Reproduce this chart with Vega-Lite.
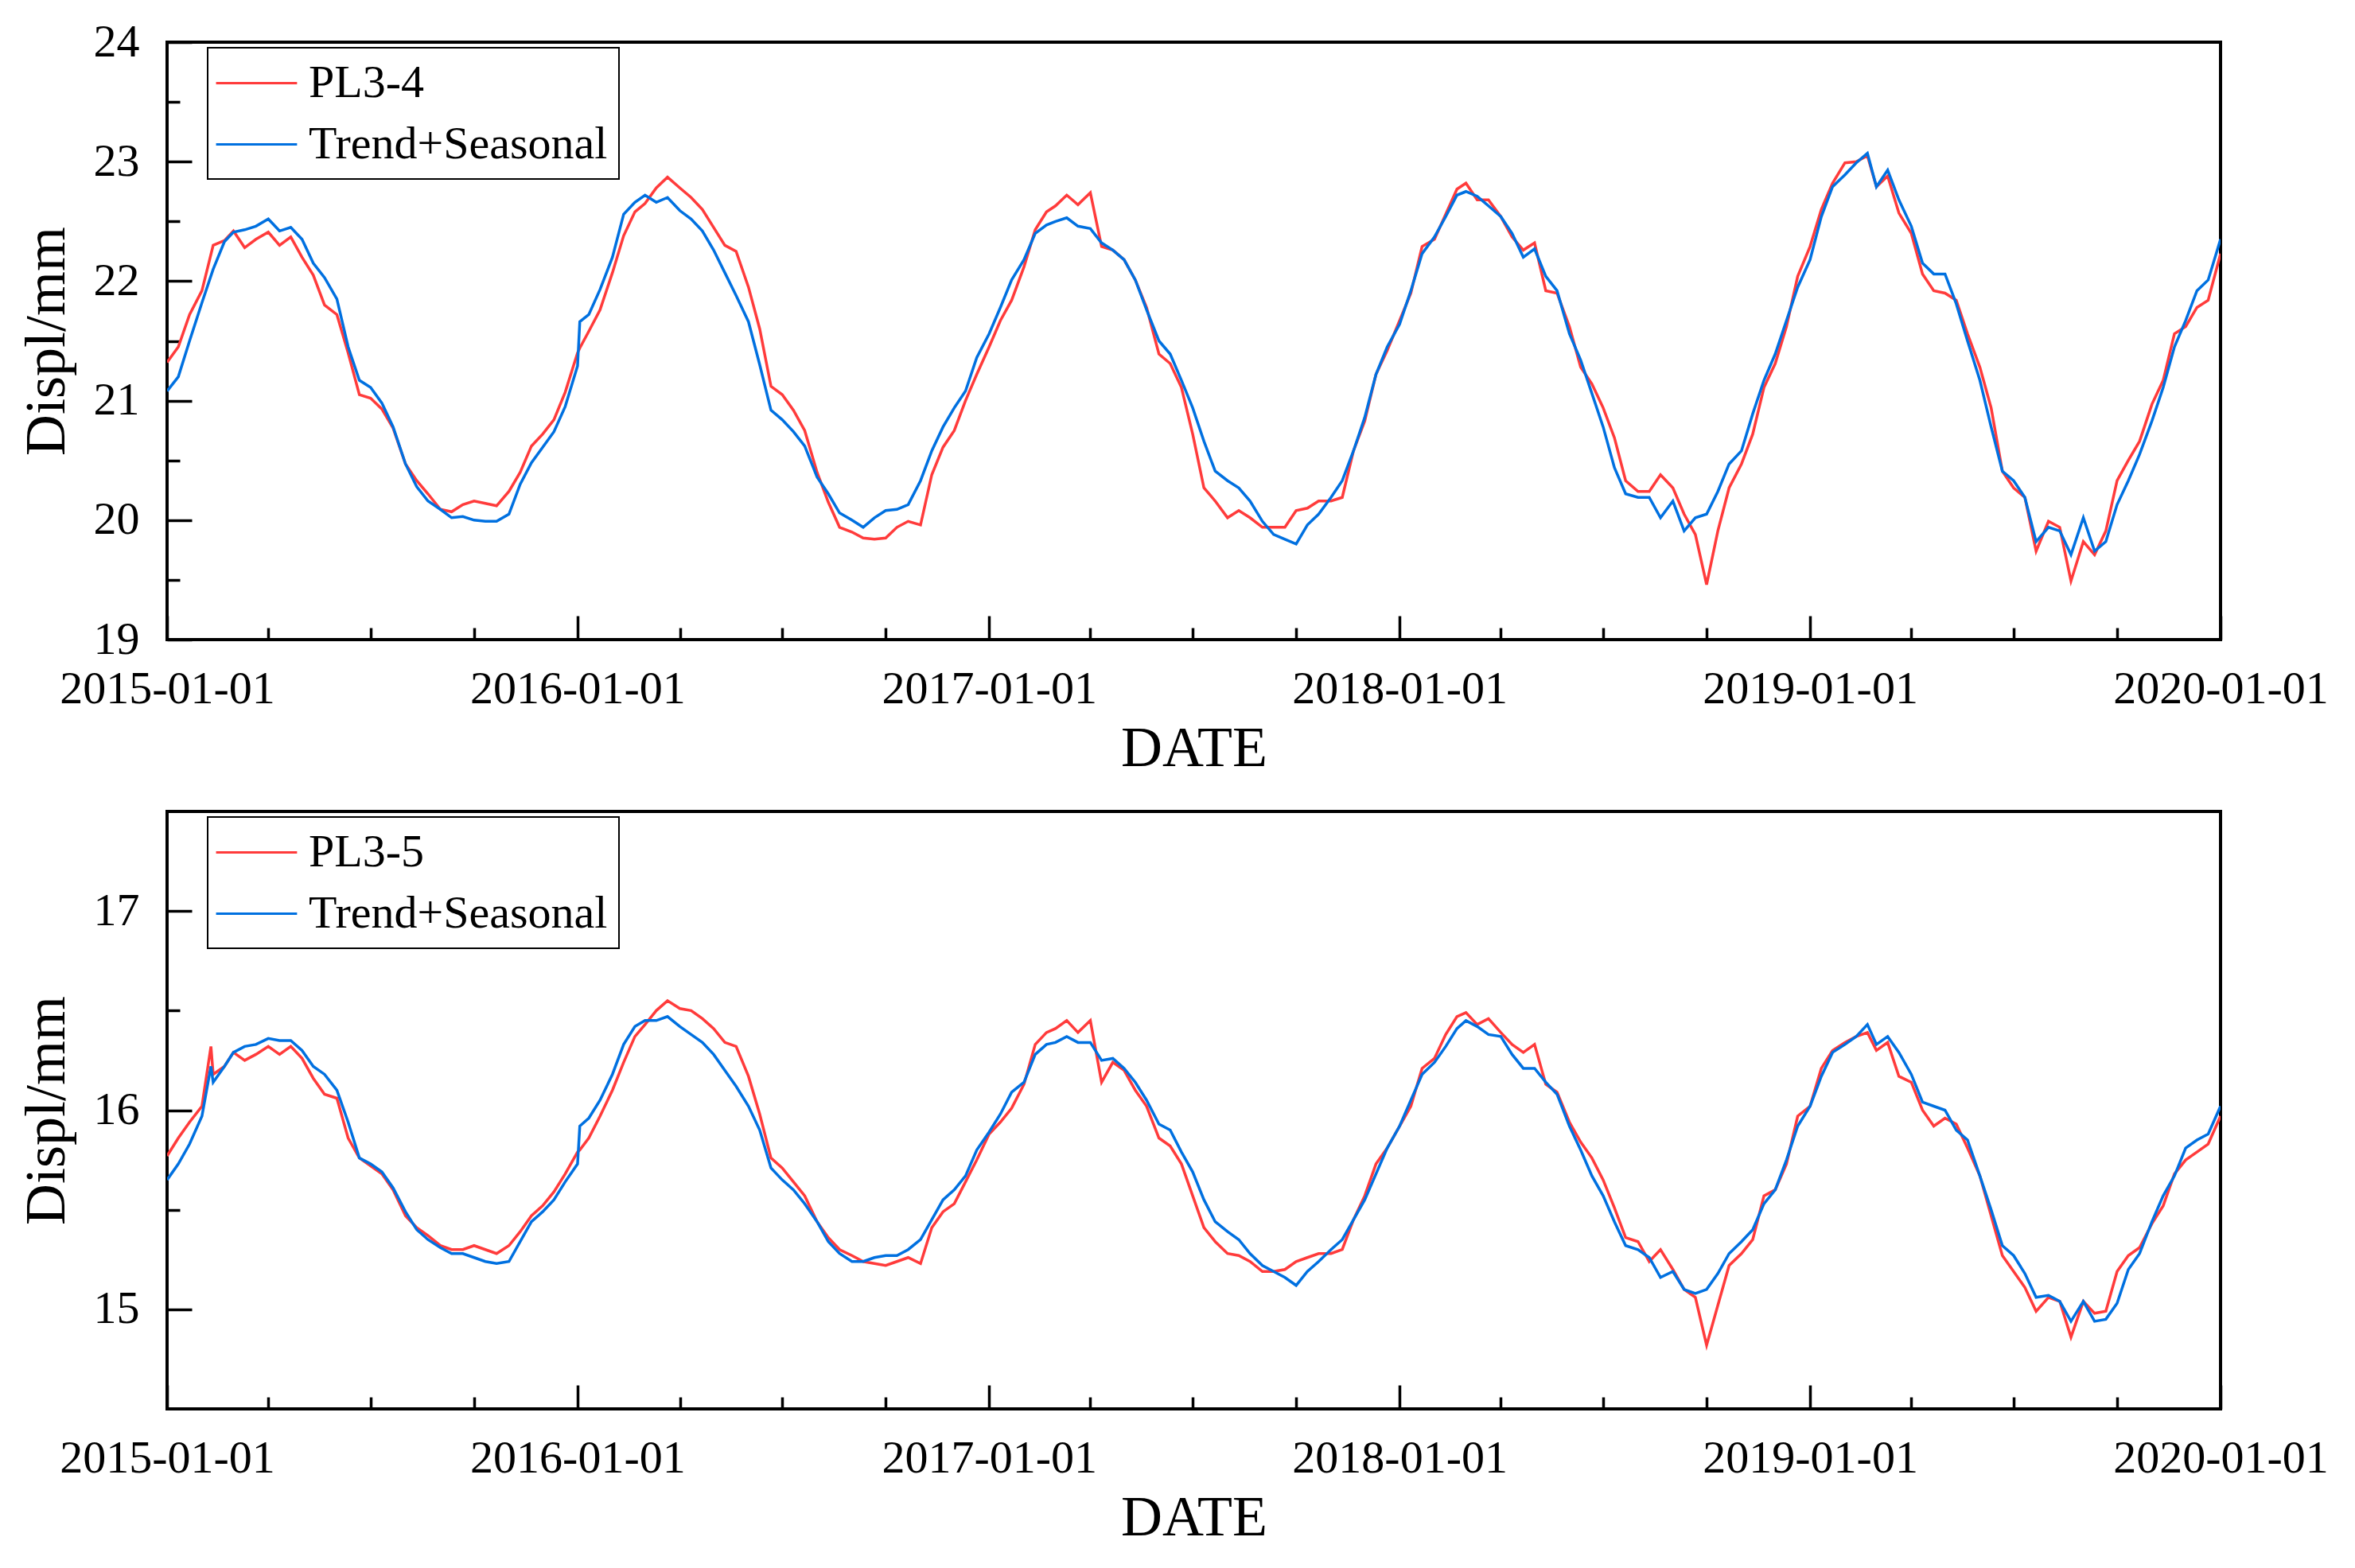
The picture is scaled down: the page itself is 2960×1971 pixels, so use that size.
{
"$schema":"https://vega.github.io/schema/vega-lite/v6.json",
"background":"white",
"padding":{"left":20,"top":22,"right":10,"bottom":10},
"spacing":40,
"config":{
 "view":{"stroke":"black","strokeWidth":4},
 "font":"Liberation Serif",
 "axis":{"domain":false,"grid":false,"tickColor":"black","tickWidth":3.5,"labelColor":"black","labelFont":"Liberation Serif","labelFontSize":58,"labelLimit":0,"titleFont":"Liberation Serif","titleFontSize":72,"titleFontWeight":"normal","titleColor":"black","labelFlush":false,"labelOverlap":false},
 "legend":{"orient":"none","legendX":51,"legendY":7,"direction":"vertical","title":null,"strokeColor":"black","strokeWidth":2,"fillColor":"white","padding":14,"symbolType":"M-1.17,0H2.34","symbolSize":3364,"symbolStrokeWidth":3,"labelFontSize":58,"labelFont":"Liberation Serif","labelColor":"black","labelOffset":52,"rowPadding":17,"labelLimit":0}
},
"resolve":{"scale":{"color":"independent"},"legend":{"color":"independent"}},
"vconcat":[
{
 "width":2581,"height":751,
 "data":{"values":[
{"date":"2015-01-01","obs":21.32,"fit":21.08},
{"date":"2015-01-11","obs":21.45,"fit":21.20},
{"date":"2015-01-21","obs":21.72,"fit":21.50},
{"date":"2015-02-01","obs":21.92,"fit":21.82},
{"date":"2015-02-11","obs":22.30,"fit":22.10},
{"date":"2015-02-21","obs":22.34,"fit":22.33},
{"date":"2015-03-01","obs":22.42,"fit":22.41},
{"date":"2015-03-11","obs":22.28,"fit":22.43},
{"date":"2015-03-21","obs":22.35,"fit":22.46},
{"date":"2015-04-01","obs":22.41,"fit":22.52},
{"date":"2015-04-11","obs":22.30,"fit":22.42},
{"date":"2015-04-21","obs":22.37,"fit":22.45},
{"date":"2015-05-01","obs":22.20,"fit":22.35},
{"date":"2015-05-11","obs":22.05,"fit":22.15},
{"date":"2015-05-21","obs":21.80,"fit":22.03},
{"date":"2015-06-01","obs":21.72,"fit":21.85},
{"date":"2015-06-11","obs":21.40,"fit":21.45},
{"date":"2015-06-21","obs":21.05,"fit":21.17},
{"date":"2015-07-01","obs":21.02,"fit":21.11},
{"date":"2015-07-11","obs":20.93,"fit":20.98},
{"date":"2015-07-21","obs":20.77,"fit":20.78},
{"date":"2015-08-01","obs":20.47,"fit":20.47},
{"date":"2015-08-11","obs":20.33,"fit":20.28},
{"date":"2015-08-21","obs":20.22,"fit":20.16},
{"date":"2015-09-01","obs":20.09,"fit":20.09},
{"date":"2015-09-11","obs":20.07,"fit":20.02},
{"date":"2015-09-21","obs":20.13,"fit":20.03},
{"date":"2015-10-01","obs":20.16,"fit":20.00},
{"date":"2015-10-11","obs":20.14,"fit":19.99},
{"date":"2015-10-21","obs":20.12,"fit":19.99},
{"date":"2015-11-01","obs":20.24,"fit":20.05},
{"date":"2015-11-11","obs":20.40,"fit":20.30},
{"date":"2015-11-21","obs":20.62,"fit":20.48},
{"date":"2015-12-01","obs":20.72,"fit":20.61},
{"date":"2015-12-11","obs":20.84,"fit":20.74},
{"date":"2015-12-21","obs":21.07,"fit":20.95},
{"date":"2016-01-01","obs":21.40,"fit":21.29},
{"date":"2016-01-03","obs":21.44,"fit":21.66},
{"date":"2016-01-11","obs":21.58,"fit":21.72},
{"date":"2016-01-21","obs":21.76,"fit":21.93},
{"date":"2016-02-01","obs":22.07,"fit":22.20},
{"date":"2016-02-11","obs":22.38,"fit":22.56},
{"date":"2016-02-21","obs":22.58,"fit":22.66},
{"date":"2016-03-01","obs":22.65,"fit":22.72},
{"date":"2016-03-11","obs":22.78,"fit":22.66},
{"date":"2016-03-21","obs":22.87,"fit":22.70},
{"date":"2016-04-01","obs":22.78,"fit":22.59},
{"date":"2016-04-11","obs":22.70,"fit":22.52},
{"date":"2016-04-21","obs":22.60,"fit":22.42},
{"date":"2016-05-01","obs":22.45,"fit":22.26},
{"date":"2016-05-11","obs":22.30,"fit":22.07},
{"date":"2016-05-21","obs":22.25,"fit":21.88},
{"date":"2016-06-01","obs":21.95,"fit":21.66},
{"date":"2016-06-11","obs":21.60,"fit":21.30},
{"date":"2016-06-21","obs":21.12,"fit":20.92},
{"date":"2016-07-01","obs":21.05,"fit":20.84},
{"date":"2016-07-11","obs":20.92,"fit":20.74},
{"date":"2016-07-21","obs":20.75,"fit":20.62},
{"date":"2016-08-01","obs":20.40,"fit":20.36},
{"date":"2016-08-11","obs":20.15,"fit":20.22},
{"date":"2016-08-21","obs":19.94,"fit":20.06},
{"date":"2016-09-01","obs":19.90,"fit":20.00},
{"date":"2016-09-11","obs":19.85,"fit":19.94},
{"date":"2016-09-21","obs":19.84,"fit":20.02},
{"date":"2016-10-01","obs":19.85,"fit":20.08},
{"date":"2016-10-11","obs":19.94,"fit":20.09},
{"date":"2016-10-21","obs":19.99,"fit":20.13},
{"date":"2016-11-01","obs":19.96,"fit":20.33},
{"date":"2016-11-11","obs":20.38,"fit":20.58},
{"date":"2016-11-21","obs":20.61,"fit":20.78},
{"date":"2016-12-01","obs":20.75,"fit":20.94},
{"date":"2016-12-11","obs":21.00,"fit":21.08},
{"date":"2016-12-21","obs":21.22,"fit":21.36},
{"date":"2017-01-01","obs":21.45,"fit":21.56},
{"date":"2017-01-11","obs":21.67,"fit":21.78},
{"date":"2017-01-21","obs":21.84,"fit":22.01},
{"date":"2017-02-01","obs":22.12,"fit":22.18},
{"date":"2017-02-11","obs":22.43,"fit":22.40},
{"date":"2017-02-21","obs":22.58,"fit":22.47},
{"date":"2017-03-01","obs":22.63,"fit":22.50},
{"date":"2017-03-11","obs":22.72,"fit":22.53},
{"date":"2017-03-21","obs":22.64,"fit":22.46},
{"date":"2017-04-01","obs":22.74,"fit":22.44},
{"date":"2017-04-11","obs":22.29,"fit":22.32},
{"date":"2017-04-21","obs":22.26,"fit":22.26},
{"date":"2017-05-01","obs":22.18,"fit":22.18},
{"date":"2017-05-11","obs":22.01,"fit":22.01},
{"date":"2017-05-21","obs":21.78,"fit":21.76},
{"date":"2017-06-01","obs":21.39,"fit":21.50},
{"date":"2017-06-11","obs":21.31,"fit":21.39},
{"date":"2017-06-21","obs":21.11,"fit":21.17},
{"date":"2017-07-01","obs":20.72,"fit":20.94},
{"date":"2017-07-11","obs":20.27,"fit":20.66},
{"date":"2017-07-21","obs":20.16,"fit":20.41},
{"date":"2017-08-01","obs":20.02,"fit":20.33},
{"date":"2017-08-11","obs":20.08,"fit":20.27},
{"date":"2017-08-21","obs":20.02,"fit":20.16},
{"date":"2017-09-01","obs":19.94,"fit":19.99},
{"date":"2017-09-11","obs":19.94,"fit":19.88},
{"date":"2017-09-21","obs":19.94,"fit":19.84},
{"date":"2017-10-01","obs":20.08,"fit":19.80},
{"date":"2017-10-11","obs":20.10,"fit":19.96},
{"date":"2017-10-21","obs":20.16,"fit":20.05},
{"date":"2017-11-01","obs":20.16,"fit":20.19},
{"date":"2017-11-11","obs":20.19,"fit":20.33},
{"date":"2017-11-21","obs":20.58,"fit":20.58},
{"date":"2017-12-01","obs":20.83,"fit":20.86},
{"date":"2017-12-11","obs":21.22,"fit":21.22},
{"date":"2017-12-21","obs":21.42,"fit":21.45},
{"date":"2018-01-01","obs":21.67,"fit":21.64},
{"date":"2018-01-11","obs":21.90,"fit":21.92},
{"date":"2018-01-21","obs":22.29,"fit":22.23},
{"date":"2018-02-01","obs":22.35,"fit":22.37},
{"date":"2018-02-11","obs":22.56,"fit":22.54},
{"date":"2018-02-21","obs":22.77,"fit":22.72},
{"date":"2018-03-01","obs":22.82,"fit":22.75},
{"date":"2018-03-11","obs":22.68,"fit":22.71},
{"date":"2018-03-21","obs":22.68,"fit":22.63},
{"date":"2018-04-01","obs":22.54,"fit":22.54},
{"date":"2018-04-11","obs":22.37,"fit":22.40},
{"date":"2018-04-21","obs":22.26,"fit":22.20},
{"date":"2018-05-01","obs":22.32,"fit":22.27},
{"date":"2018-05-11","obs":21.92,"fit":22.04},
{"date":"2018-05-21","obs":21.90,"fit":21.92},
{"date":"2018-06-01","obs":21.62,"fit":21.56},
{"date":"2018-06-11","obs":21.28,"fit":21.34},
{"date":"2018-06-21","obs":21.14,"fit":21.06},
{"date":"2018-07-01","obs":20.94,"fit":20.78},
{"date":"2018-07-11","obs":20.69,"fit":20.44},
{"date":"2018-07-21","obs":20.33,"fit":20.22},
{"date":"2018-08-01","obs":20.24,"fit":20.19},
{"date":"2018-08-11","obs":20.24,"fit":20.19},
{"date":"2018-08-21","obs":20.38,"fit":20.02},
{"date":"2018-09-01","obs":20.27,"fit":20.16},
{"date":"2018-09-11","obs":20.05,"fit":19.91},
{"date":"2018-09-21","obs":19.88,"fit":20.02},
{"date":"2018-10-01","obs":19.46,"fit":20.05},
{"date":"2018-10-11","obs":19.91,"fit":20.24},
{"date":"2018-10-21","obs":20.27,"fit":20.47},
{"date":"2018-11-01","obs":20.47,"fit":20.58},
{"date":"2018-11-11","obs":20.72,"fit":20.89},
{"date":"2018-11-21","obs":21.11,"fit":21.17},
{"date":"2018-12-01","obs":21.31,"fit":21.39},
{"date":"2018-12-11","obs":21.62,"fit":21.67},
{"date":"2018-12-21","obs":22.04,"fit":21.95},
{"date":"2019-01-01","obs":22.29,"fit":22.18},
{"date":"2019-01-11","obs":22.60,"fit":22.54},
{"date":"2019-01-21","obs":22.82,"fit":22.79},
{"date":"2019-02-01","obs":22.99,"fit":22.89},
{"date":"2019-02-11","obs":23.00,"fit":22.99},
{"date":"2019-02-21","obs":23.05,"fit":23.07},
{"date":"2019-03-01","obs":22.79,"fit":22.79},
{"date":"2019-03-11","obs":22.88,"fit":22.93},
{"date":"2019-03-21","obs":22.57,"fit":22.68},
{"date":"2019-04-01","obs":22.40,"fit":22.46},
{"date":"2019-04-11","obs":22.06,"fit":22.15},
{"date":"2019-04-21","obs":21.92,"fit":22.06},
{"date":"2019-05-01","obs":21.90,"fit":22.06},
{"date":"2019-05-11","obs":21.84,"fit":21.81},
{"date":"2019-05-21","obs":21.56,"fit":21.50},
{"date":"2019-06-01","obs":21.28,"fit":21.17},
{"date":"2019-06-11","obs":20.94,"fit":20.78},
{"date":"2019-06-21","obs":20.41,"fit":20.41},
{"date":"2019-07-01","obs":20.27,"fit":20.33},
{"date":"2019-07-11","obs":20.19,"fit":20.19},
{"date":"2019-07-21","obs":19.74,"fit":19.82},
{"date":"2019-08-01","obs":19.99,"fit":19.94},
{"date":"2019-08-11","obs":19.94,"fit":19.91},
{"date":"2019-08-21","obs":19.49,"fit":19.71},
{"date":"2019-09-01","obs":19.82,"fit":20.02},
{"date":"2019-09-11","obs":19.71,"fit":19.74},
{"date":"2019-09-21","obs":19.91,"fit":19.82},
{"date":"2019-10-01","obs":20.33,"fit":20.13},
{"date":"2019-10-11","obs":20.50,"fit":20.33},
{"date":"2019-10-21","obs":20.66,"fit":20.55},
{"date":"2019-11-01","obs":20.97,"fit":20.83},
{"date":"2019-11-11","obs":21.17,"fit":21.11},
{"date":"2019-11-21","obs":21.56,"fit":21.45},
{"date":"2019-12-01","obs":21.62,"fit":21.67},
{"date":"2019-12-11","obs":21.78,"fit":21.92},
{"date":"2019-12-21","obs":21.84,"fit":22.01},
{"date":"2020-01-01","obs":22.23,"fit":22.35}
 ]},
 "transform":[{"fold":["obs","fit"],"as":["series","value"]}],
 "layer":[
  {"mark":{"type":"line","strokeWidth":3.5,"clip":true},
   "encoding":{
    "x":{"field":"date","type":"temporal","scale":{"type":"utc","domain":[{"year":2015,"month":1,"date":1,"utc":true},{"year":2020,"month":1,"date":1,"utc":true}]},
     "axis":{"orient":"bottom","values":[{"year":2015,"month":1,"date":1,"utc":true},{"year":2016,"month":1,"date":1,"utc":true},{"year":2017,"month":1,"date":1,"utc":true},{"year":2018,"month":1,"date":1,"utc":true},{"year":2019,"month":1,"date":1,"utc":true},{"year":2020,"month":1,"date":1,"utc":true}],"labelExpr":"utcFormat(datum.value, '%Y-%m-%d')","tickSize":-30,"labelPadding":63,"title":"DATE","titlePadding":10}},
    "y":{"field":"value","type":"quantitative","scale":{"domain":[19,24],"nice":false,"zero":false},
     "axis":{"orient":"left","values":[19,20,21,22,23,24],"tickSize":-31,"labelPadding":66,"title":"Displ/mm","titlePadding":22}},
    "color":{"field":"series","type":"nominal","scale":{"domain":["obs","fit"],"range":["#FF3B3B","#0070E0"]},
     "legend":{"labelExpr":"datum.label == 'obs' ? 'PL3-4' : 'Trend+Seasonal'"}}
   }},
  {"mark":{"type":"line","opacity":0},
   "encoding":{
    "x":{"field":"date","type":"temporal","scale":{"type":"utc","domain":[{"year":2015,"month":1,"date":1,"utc":true},{"year":2020,"month":1,"date":1,"utc":true}]},
     "axis":{"orient":"bottom","values":[{"year":2015,"month":4,"date":1,"utc":true},{"year":2015,"month":7,"date":1,"utc":true},{"year":2015,"month":10,"date":1,"utc":true},{"year":2016,"month":4,"date":1,"utc":true},{"year":2016,"month":7,"date":1,"utc":true},{"year":2016,"month":10,"date":1,"utc":true},{"year":2017,"month":4,"date":1,"utc":true},{"year":2017,"month":7,"date":1,"utc":true},{"year":2017,"month":10,"date":1,"utc":true},{"year":2018,"month":4,"date":1,"utc":true},{"year":2018,"month":7,"date":1,"utc":true},{"year":2018,"month":10,"date":1,"utc":true},{"year":2019,"month":4,"date":1,"utc":true},{"year":2019,"month":7,"date":1,"utc":true},{"year":2019,"month":10,"date":1,"utc":true}],"labels":false,"tickSize":-15,"title":null}},
    "y":{"field":"value","type":"quantitative","scale":{"domain":[19,24],"nice":false,"zero":false},
     "axis":{"orient":"left","values":[19.5,20.5,21.5,22.5,23.5],"labels":false,"tickSize":-16,"title":null}},
    "detail":{"field":"series"}
   }}
 ],
 "resolve":{"axis":{"x":"independent","y":"independent"}}
},
{
 "width":2581,"height":751,
 "data":{"values":[
{"date":"2015-01-01","obs":15.77,"fit":15.65},
{"date":"2015-01-11","obs":15.86,"fit":15.73},
{"date":"2015-01-21","obs":15.94,"fit":15.83},
{"date":"2015-02-01","obs":16.02,"fit":15.97},
{"date":"2015-02-09","obs":16.32,"fit":16.22},
{"date":"2015-02-11","obs":16.18,"fit":16.14},
{"date":"2015-02-21","obs":16.22,"fit":16.22},
{"date":"2015-03-01","obs":16.29,"fit":16.29},
{"date":"2015-03-11","obs":16.25,"fit":16.32},
{"date":"2015-03-21","obs":16.28,"fit":16.33},
{"date":"2015-04-01","obs":16.32,"fit":16.36},
{"date":"2015-04-11","obs":16.28,"fit":16.35},
{"date":"2015-04-21","obs":16.32,"fit":16.35},
{"date":"2015-05-01","obs":16.26,"fit":16.30},
{"date":"2015-05-11","obs":16.16,"fit":16.22},
{"date":"2015-05-21","obs":16.08,"fit":16.18},
{"date":"2015-06-01","obs":16.06,"fit":16.10},
{"date":"2015-06-11","obs":15.86,"fit":15.94},
{"date":"2015-06-21","obs":15.76,"fit":15.76},
{"date":"2015-07-01","obs":15.72,"fit":15.73},
{"date":"2015-07-11","obs":15.68,"fit":15.69},
{"date":"2015-07-21","obs":15.60,"fit":15.61},
{"date":"2015-08-01","obs":15.47,"fit":15.49},
{"date":"2015-08-11","obs":15.41,"fit":15.40},
{"date":"2015-08-21","obs":15.37,"fit":15.35},
{"date":"2015-09-01","obs":15.32,"fit":15.31},
{"date":"2015-09-11","obs":15.30,"fit":15.28},
{"date":"2015-09-21","obs":15.30,"fit":15.28},
{"date":"2015-10-01","obs":15.32,"fit":15.26},
{"date":"2015-10-11","obs":15.30,"fit":15.24},
{"date":"2015-10-21","obs":15.28,"fit":15.23},
{"date":"2015-11-01","obs":15.32,"fit":15.24},
{"date":"2015-11-11","obs":15.39,"fit":15.34},
{"date":"2015-11-21","obs":15.47,"fit":15.44},
{"date":"2015-12-01","obs":15.52,"fit":15.49},
{"date":"2015-12-11","obs":15.59,"fit":15.55},
{"date":"2015-12-21","obs":15.68,"fit":15.64},
{"date":"2016-01-01","obs":15.79,"fit":15.73},
{"date":"2016-01-03","obs":15.80,"fit":15.92},
{"date":"2016-01-11","obs":15.86,"fit":15.96},
{"date":"2016-01-21","obs":15.97,"fit":16.05},
{"date":"2016-02-01","obs":16.10,"fit":16.18},
{"date":"2016-02-11","obs":16.24,"fit":16.33},
{"date":"2016-02-21","obs":16.37,"fit":16.42},
{"date":"2016-03-01","obs":16.43,"fit":16.45},
{"date":"2016-03-11","obs":16.50,"fit":16.45},
{"date":"2016-03-21","obs":16.55,"fit":16.47},
{"date":"2016-04-01","obs":16.51,"fit":16.42},
{"date":"2016-04-11","obs":16.50,"fit":16.38},
{"date":"2016-04-21","obs":16.46,"fit":16.34},
{"date":"2016-05-01","obs":16.41,"fit":16.28},
{"date":"2016-05-11","obs":16.34,"fit":16.20},
{"date":"2016-05-21","obs":16.32,"fit":16.12},
{"date":"2016-06-01","obs":16.17,"fit":16.02},
{"date":"2016-06-11","obs":15.98,"fit":15.90},
{"date":"2016-06-21","obs":15.76,"fit":15.71},
{"date":"2016-07-01","obs":15.71,"fit":15.65},
{"date":"2016-07-11","obs":15.64,"fit":15.60},
{"date":"2016-07-21","obs":15.57,"fit":15.53},
{"date":"2016-08-01","obs":15.44,"fit":15.44},
{"date":"2016-08-11","obs":15.36,"fit":15.34},
{"date":"2016-08-21","obs":15.30,"fit":15.28},
{"date":"2016-09-01","obs":15.27,"fit":15.24},
{"date":"2016-09-11","obs":15.24,"fit":15.24},
{"date":"2016-09-21","obs":15.23,"fit":15.26},
{"date":"2016-10-01","obs":15.22,"fit":15.27},
{"date":"2016-10-11","obs":15.24,"fit":15.27},
{"date":"2016-10-21","obs":15.26,"fit":15.30},
{"date":"2016-11-01","obs":15.23,"fit":15.35},
{"date":"2016-11-11","obs":15.41,"fit":15.45},
{"date":"2016-11-21","obs":15.49,"fit":15.55},
{"date":"2016-12-01","obs":15.53,"fit":15.60},
{"date":"2016-12-11","obs":15.64,"fit":15.67},
{"date":"2016-12-21","obs":15.75,"fit":15.80},
{"date":"2017-01-01","obs":15.88,"fit":15.89},
{"date":"2017-01-11","obs":15.94,"fit":15.98},
{"date":"2017-01-21","obs":16.01,"fit":16.09},
{"date":"2017-02-01","obs":16.13,"fit":16.14},
{"date":"2017-02-11","obs":16.33,"fit":16.28},
{"date":"2017-02-21","obs":16.39,"fit":16.33},
{"date":"2017-03-01","obs":16.41,"fit":16.34},
{"date":"2017-03-11","obs":16.45,"fit":16.37},
{"date":"2017-03-21","obs":16.39,"fit":16.34},
{"date":"2017-04-01","obs":16.45,"fit":16.34},
{"date":"2017-04-11","obs":16.14,"fit":16.25},
{"date":"2017-04-21","obs":16.24,"fit":16.26},
{"date":"2017-05-01","obs":16.20,"fit":16.21},
{"date":"2017-05-11","obs":16.10,"fit":16.14},
{"date":"2017-05-21","obs":16.02,"fit":16.05},
{"date":"2017-06-01","obs":15.86,"fit":15.93},
{"date":"2017-06-11","obs":15.82,"fit":15.90},
{"date":"2017-06-21","obs":15.73,"fit":15.79},
{"date":"2017-07-01","obs":15.57,"fit":15.69},
{"date":"2017-07-11","obs":15.41,"fit":15.55},
{"date":"2017-07-21","obs":15.34,"fit":15.44},
{"date":"2017-08-01","obs":15.28,"fit":15.39},
{"date":"2017-08-11","obs":15.27,"fit":15.35},
{"date":"2017-08-21","obs":15.24,"fit":15.28},
{"date":"2017-09-01","obs":15.19,"fit":15.22},
{"date":"2017-09-11","obs":15.19,"fit":15.19},
{"date":"2017-09-21","obs":15.20,"fit":15.16},
{"date":"2017-10-01","obs":15.24,"fit":15.12},
{"date":"2017-10-11","obs":15.26,"fit":15.19},
{"date":"2017-10-21","obs":15.28,"fit":15.24},
{"date":"2017-11-01","obs":15.28,"fit":15.30},
{"date":"2017-11-11","obs":15.30,"fit":15.35},
{"date":"2017-11-21","obs":15.45,"fit":15.45},
{"date":"2017-12-01","obs":15.57,"fit":15.55},
{"date":"2017-12-11","obs":15.73,"fit":15.68},
{"date":"2017-12-21","obs":15.81,"fit":15.81},
{"date":"2018-01-01","obs":15.92,"fit":15.92},
{"date":"2018-01-11","obs":16.02,"fit":16.05},
{"date":"2018-01-21","obs":16.21,"fit":16.18},
{"date":"2018-02-01","obs":16.26,"fit":16.24},
{"date":"2018-02-11","obs":16.38,"fit":16.32},
{"date":"2018-02-21","obs":16.47,"fit":16.41},
{"date":"2018-03-01","obs":16.49,"fit":16.45},
{"date":"2018-03-11","obs":16.43,"fit":16.42},
{"date":"2018-03-21","obs":16.46,"fit":16.38},
{"date":"2018-04-01","obs":16.39,"fit":16.37},
{"date":"2018-04-11","obs":16.33,"fit":16.28},
{"date":"2018-04-21","obs":16.29,"fit":16.21},
{"date":"2018-05-01","obs":16.33,"fit":16.21},
{"date":"2018-05-11","obs":16.13,"fit":16.14},
{"date":"2018-05-21","obs":16.09,"fit":16.08},
{"date":"2018-06-01","obs":15.94,"fit":15.92},
{"date":"2018-06-11","obs":15.84,"fit":15.80},
{"date":"2018-06-21","obs":15.76,"fit":15.67},
{"date":"2018-07-01","obs":15.65,"fit":15.57},
{"date":"2018-07-11","obs":15.51,"fit":15.44},
{"date":"2018-07-21","obs":15.36,"fit":15.32},
{"date":"2018-08-01","obs":15.34,"fit":15.30},
{"date":"2018-08-11","obs":15.24,"fit":15.26},
{"date":"2018-08-21","obs":15.30,"fit":15.16},
{"date":"2018-09-01","obs":15.20,"fit":15.19},
{"date":"2018-09-11","obs":15.10,"fit":15.10},
{"date":"2018-09-21","obs":15.06,"fit":15.08},
{"date":"2018-10-01","obs":14.82,"fit":15.10},
{"date":"2018-10-11","obs":15.02,"fit":15.18},
{"date":"2018-10-21","obs":15.22,"fit":15.28},
{"date":"2018-11-01","obs":15.28,"fit":15.34},
{"date":"2018-11-11","obs":15.35,"fit":15.40},
{"date":"2018-11-21","obs":15.57,"fit":15.53},
{"date":"2018-12-01","obs":15.60,"fit":15.60},
{"date":"2018-12-11","obs":15.73,"fit":15.75},
{"date":"2018-12-21","obs":15.97,"fit":15.92},
{"date":"2019-01-01","obs":16.02,"fit":16.02},
{"date":"2019-01-11","obs":16.21,"fit":16.17},
{"date":"2019-01-21","obs":16.30,"fit":16.29},
{"date":"2019-02-01","obs":16.34,"fit":16.33},
{"date":"2019-02-11","obs":16.37,"fit":16.37},
{"date":"2019-02-21","obs":16.39,"fit":16.43},
{"date":"2019-03-01","obs":16.30,"fit":16.33},
{"date":"2019-03-11","obs":16.34,"fit":16.37},
{"date":"2019-03-21","obs":16.17,"fit":16.29},
{"date":"2019-04-01","obs":16.14,"fit":16.18},
{"date":"2019-04-11","obs":16.00,"fit":16.04},
{"date":"2019-04-21","obs":15.92,"fit":16.02},
{"date":"2019-05-01","obs":15.96,"fit":16.00},
{"date":"2019-05-11","obs":15.93,"fit":15.90},
{"date":"2019-05-21","obs":15.81,"fit":15.85},
{"date":"2019-06-01","obs":15.67,"fit":15.67},
{"date":"2019-06-11","obs":15.47,"fit":15.50},
{"date":"2019-06-21","obs":15.27,"fit":15.32},
{"date":"2019-07-01","obs":15.19,"fit":15.27},
{"date":"2019-07-11","obs":15.11,"fit":15.18},
{"date":"2019-07-21","obs":14.99,"fit":15.06},
{"date":"2019-08-01","obs":15.06,"fit":15.07},
{"date":"2019-08-11","obs":15.04,"fit":15.04},
{"date":"2019-08-21","obs":14.86,"fit":14.94},
{"date":"2019-09-01","obs":15.04,"fit":15.04},
{"date":"2019-09-11","obs":14.98,"fit":14.94},
{"date":"2019-09-21","obs":14.99,"fit":14.95},
{"date":"2019-10-01","obs":15.19,"fit":15.03},
{"date":"2019-10-11","obs":15.27,"fit":15.20},
{"date":"2019-10-21","obs":15.31,"fit":15.28},
{"date":"2019-11-01","obs":15.43,"fit":15.44},
{"date":"2019-11-11","obs":15.52,"fit":15.57},
{"date":"2019-11-21","obs":15.68,"fit":15.67},
{"date":"2019-12-01","obs":15.75,"fit":15.81},
{"date":"2019-12-11","obs":15.79,"fit":15.85},
{"date":"2019-12-21","obs":15.83,"fit":15.88},
{"date":"2020-01-01","obs":15.97,"fit":16.02}
 ]},
 "transform":[{"fold":["obs","fit"],"as":["series","value"]}],
 "layer":[
  {"mark":{"type":"line","strokeWidth":3.5,"clip":true},
   "encoding":{
    "x":{"field":"date","type":"temporal","scale":{"type":"utc","domain":[{"year":2015,"month":1,"date":1,"utc":true},{"year":2020,"month":1,"date":1,"utc":true}]},
     "axis":{"orient":"bottom","values":[{"year":2015,"month":1,"date":1,"utc":true},{"year":2016,"month":1,"date":1,"utc":true},{"year":2017,"month":1,"date":1,"utc":true},{"year":2018,"month":1,"date":1,"utc":true},{"year":2019,"month":1,"date":1,"utc":true},{"year":2020,"month":1,"date":1,"utc":true}],"labelExpr":"utcFormat(datum.value, '%Y-%m-%d')","tickSize":-30,"labelPadding":63,"title":"DATE","titlePadding":10}},
    "y":{"field":"value","type":"quantitative","scale":{"domain":[14.5,17.5],"nice":false,"zero":false},
     "axis":{"orient":"left","values":[15,16,17],"tickSize":-31,"labelPadding":66,"title":"Displ/mm","titlePadding":22}},
    "color":{"field":"series","type":"nominal","scale":{"domain":["obs","fit"],"range":["#FF3B3B","#0070E0"]},
     "legend":{"labelExpr":"datum.label == 'obs' ? 'PL3-5' : 'Trend+Seasonal'"}}
   }},
  {"mark":{"type":"line","opacity":0},
   "encoding":{
    "x":{"field":"date","type":"temporal","scale":{"type":"utc","domain":[{"year":2015,"month":1,"date":1,"utc":true},{"year":2020,"month":1,"date":1,"utc":true}]},
     "axis":{"orient":"bottom","values":[{"year":2015,"month":4,"date":1,"utc":true},{"year":2015,"month":7,"date":1,"utc":true},{"year":2015,"month":10,"date":1,"utc":true},{"year":2016,"month":4,"date":1,"utc":true},{"year":2016,"month":7,"date":1,"utc":true},{"year":2016,"month":10,"date":1,"utc":true},{"year":2017,"month":4,"date":1,"utc":true},{"year":2017,"month":7,"date":1,"utc":true},{"year":2017,"month":10,"date":1,"utc":true},{"year":2018,"month":4,"date":1,"utc":true},{"year":2018,"month":7,"date":1,"utc":true},{"year":2018,"month":10,"date":1,"utc":true},{"year":2019,"month":4,"date":1,"utc":true},{"year":2019,"month":7,"date":1,"utc":true},{"year":2019,"month":10,"date":1,"utc":true}],"labels":false,"tickSize":-15,"title":null}},
    "y":{"field":"value","type":"quantitative","scale":{"domain":[14.5,17.5],"nice":false,"zero":false},
     "axis":{"orient":"left","values":[15.5,16.5],"labels":false,"tickSize":-16,"title":null}},
    "detail":{"field":"series"}
   }}
 ],
 "resolve":{"axis":{"x":"independent","y":"independent"}}
}
]
}
